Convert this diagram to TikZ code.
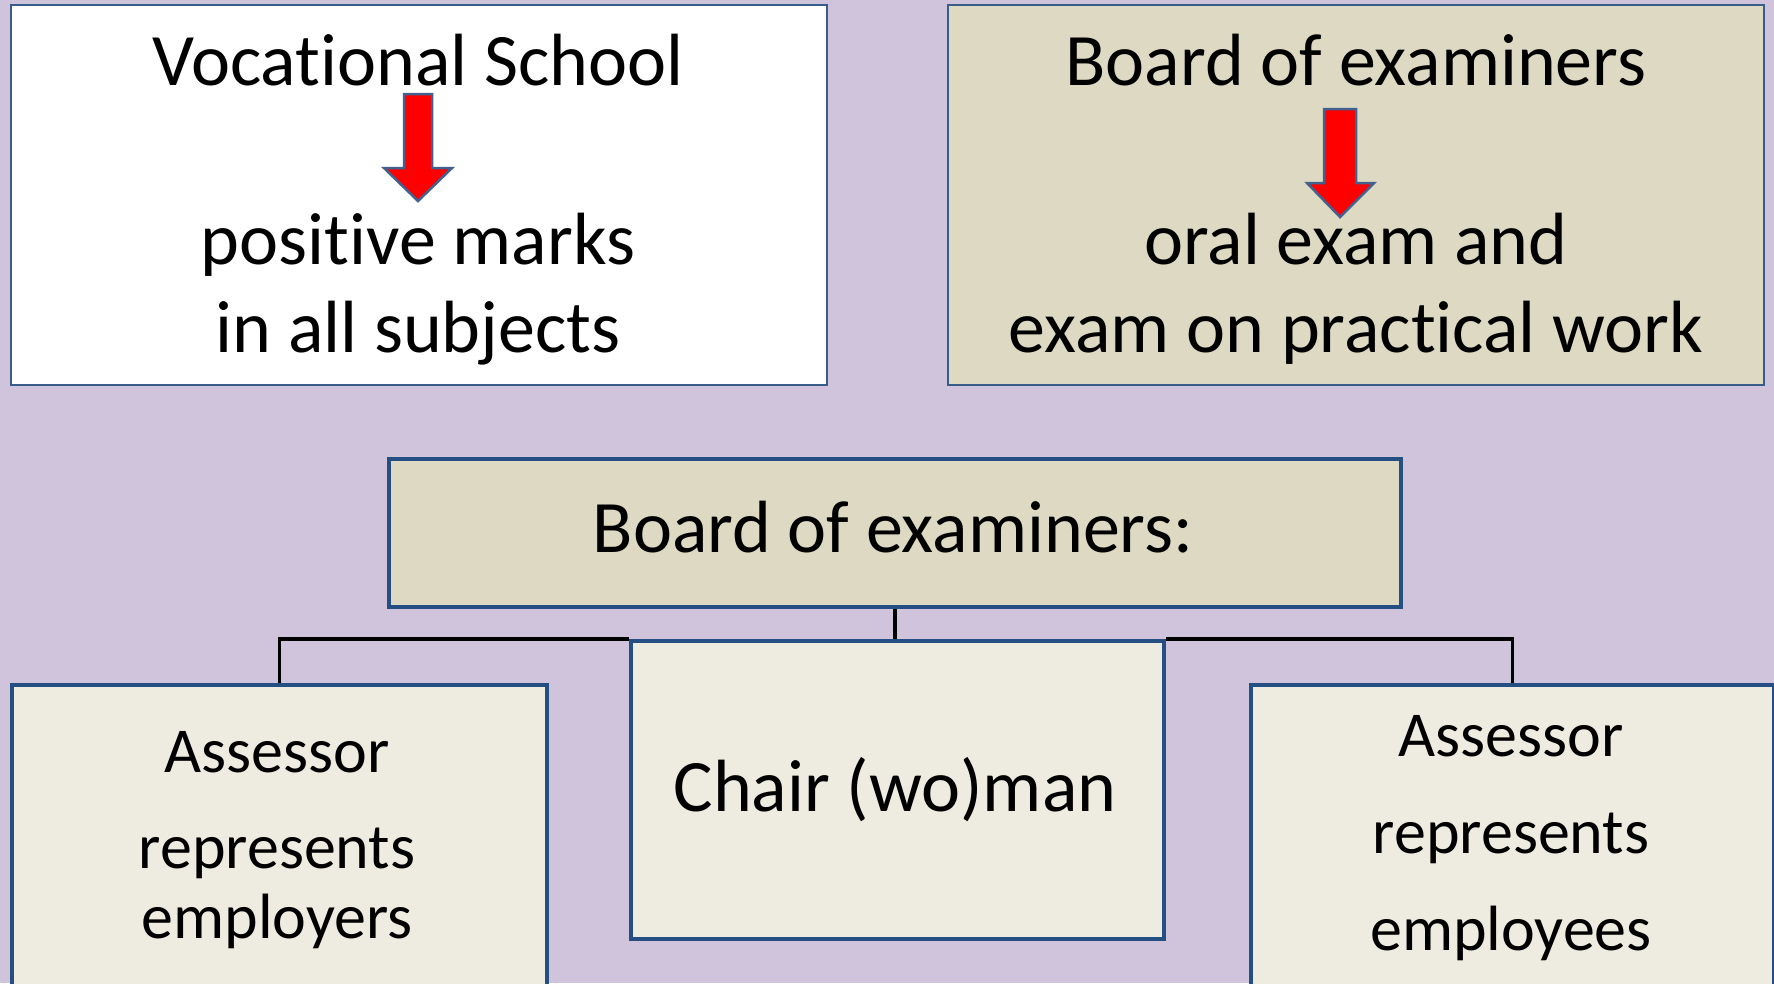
\documentclass[tikz,border=0pt]{standalone}
\usepackage{fontspec}
\setmainfont{Carlito}[Ligatures={NoCommon}]
\pgfdeclarelayer{back}
\pgfsetlayers{back,main}
\definecolor{bgcol}{RGB}{208,195,220}
\definecolor{tancol}{RGB}{221,217,195}
\definecolor{lightcol}{RGB}{238,236,225}
\definecolor{edgecol}{RGB}{37,79,130}
\definecolor{thinedge}{RGB}{56,93,138}
\definecolor{arrowedge}{RGB}{65,97,143}
\tikzset{
  thinbox/.style={draw=thinedge, line width=1.5pt, anchor=north west, inner sep=0pt},
  thickbox/.style={draw=edgecol, line width=3.8pt, anchor=north west, inner sep=0pt},
  big/.style={font=\fontsize{74}{88}\selectfont, anchor=base, inner sep=0pt, text=black},
  small/.style={font=\fontsize{64}{76}\selectfont, anchor=base, inner sep=0pt, text=black},
  conn/.style={draw=black, line width=3.5pt},
  blockarrow/.style={fill=red, draw=arrowedge, line width=2.5pt, line join=miter},
}
\begin{document}
\begin{tikzpicture}[x=1pt,y=-1pt]
\useasboundingbox (0,0) rectangle (1774,983);
\clip (0,0) rectangle (1774,983);
\begin{pgfonlayer}{back}
\fill[bgcol] (0,0) rectangle (1774,983);
\end{pgfonlayer}
% top boxes
\node[thinbox, fill=white, minimum width=816pt, minimum height=380pt] (vs) at (10,4) {};
\node[thinbox, fill=tancol, minimum width=816pt, minimum height=380pt] (be) at (947,4) {};
% middle box
\node[thickbox, fill=tancol, minimum width=1012pt, minimum height=148pt] (mid) at (387,457) {};
% bottom boxes
\node[thickbox, fill=lightcol, minimum width=535pt, minimum height=400pt] (left) at (10,683) {};
\node[thickbox, fill=lightcol, minimum width=533pt, minimum height=298pt] (chair) at (629,639) {};
\node[thickbox, fill=lightcol, minimum width=523pt, minimum height=400pt] (right) at (1249,683) {};
% texts top left
\node[big] (t1) at (418,85) {Vocational School};
\node[big] (t2) at (418,264) {positive marks};
\node[big] (t3) at (418,352) {in all subjects};
% texts top right
\node[big] (t4) at (1356,85) {Board of examiners};
\node[big] (t5) at (1356,264) {oral exam and};
\node[big] (t6) at (1356,352) {exam on practical work};
% middle
\node[big] (t7) at (893,552) {Board of examiners:};
\node[big] (t8) at (895,811) {Chair (wo)man};
% bottom left
\node[small] (t9) at (277,772) {Assessor};
\node[small] (t10) at (277,868) {represents};
\node[small] (t11) at (277,938) {employers};
% bottom right
\node[small] (t12) at (1511,756) {Assessor};
\node[small] (t13) at (1511,853) {represents};
\node[small] (t14) at (1511,950) {employees};
% block arrows
\draw[blockarrow] (404,94) -- (432,94) -- (432,168) -- (452,168) -- (418,201) -- (384,168) -- (404,168) -- cycle;
\draw[blockarrow] (1324,109) -- (1356,109) -- (1356,183) -- (1374,183) -- (1340,217) -- (1307,183) -- (1324,183) -- cycle;
% connectors
\begin{pgfonlayer}{back}
\draw[conn] (mid.south) -- (mid.south |- chair.north);
\draw[conn] (left.north) |- (chair.north west);
\draw[conn] (right.north) |- (chair.north east);
\end{pgfonlayer}
\end{tikzpicture}
\end{document}
